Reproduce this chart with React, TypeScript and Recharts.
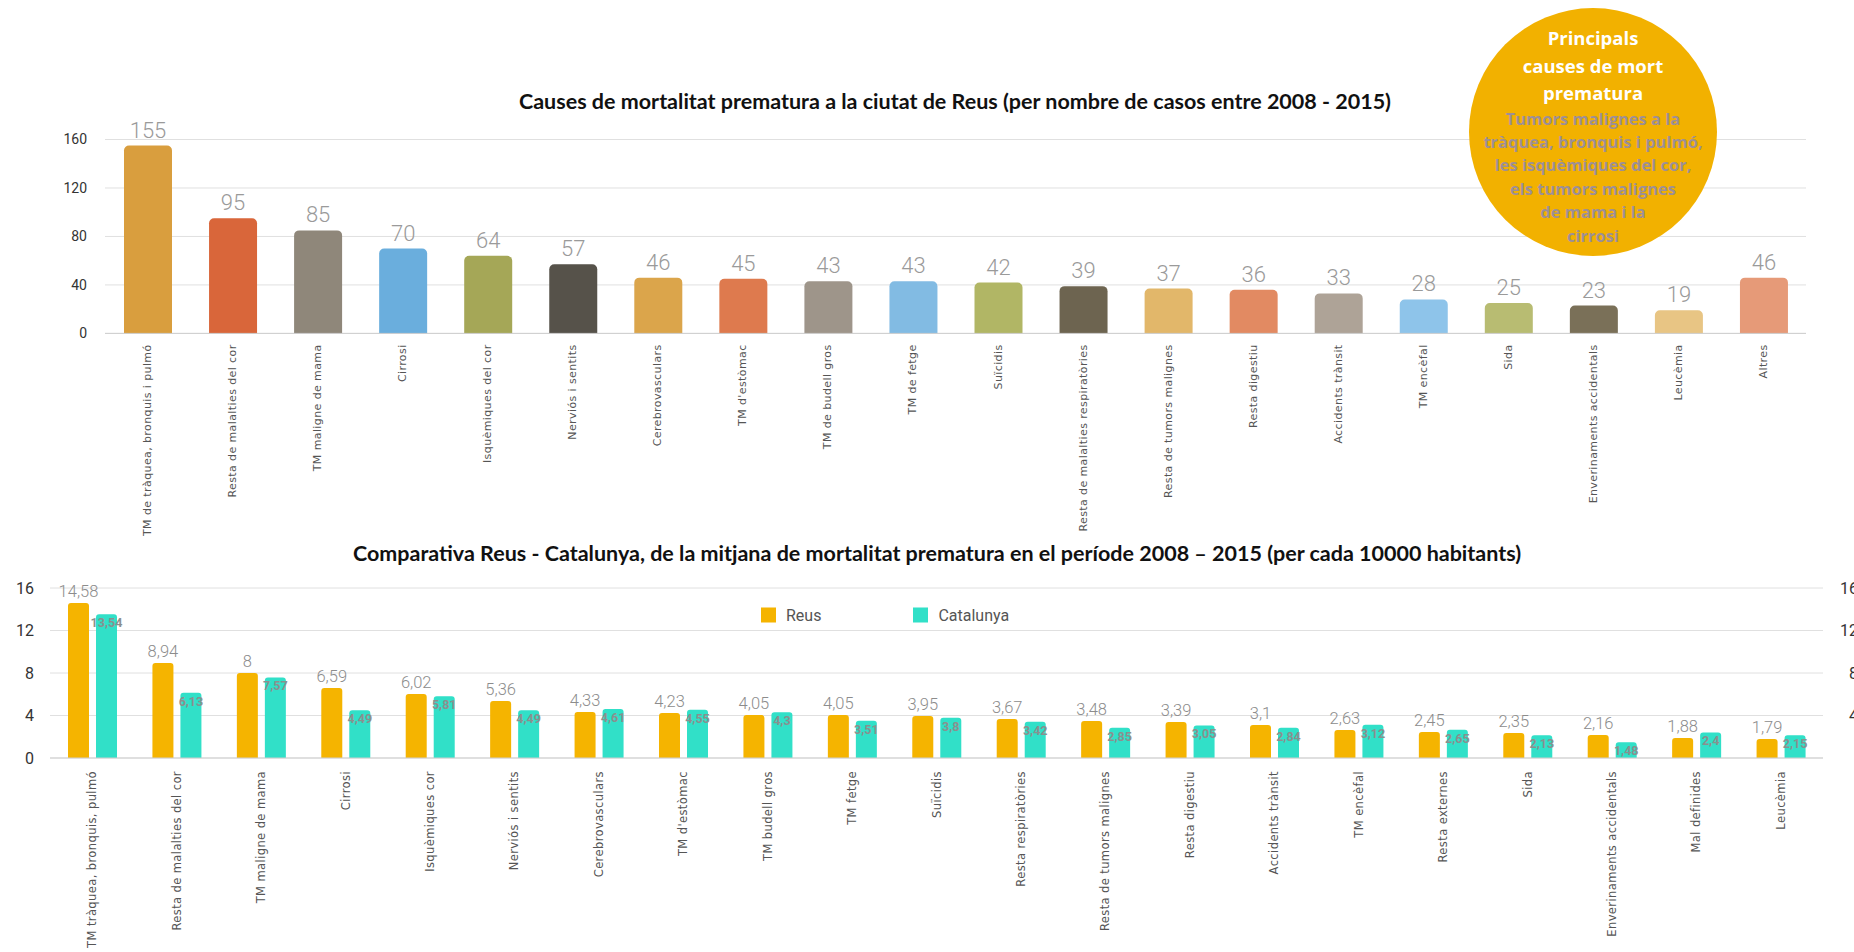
import { Bar, BarChart, CartesianGrid, Cell, LabelList, XAxis, YAxis } from "recharts";

// ---- top chart: number of cases 2008-2015 ----
const TOP_CATEGORIES = [
  "TM de tràquea, bronquis i pulmó",
  "Resta de malalties del cor",
  "TM maligne de mama",
  "Cirrosi",
  "Isquèmiques del cor",
  "Nerviós i sentits",
  "Cerebrovasculars",
  "TM d'estòmac",
  "TM de budell gros",
  "TM de fetge",
  "Suïcidis",
  "Resta de malalties respiratòries",
  "Resta de tumors malignes",
  "Resta digestiu",
  "Accidents trànsit",
  "TM encèfal",
  "Sida",
  "Enverinaments accidentals",
  "Leucèmia",
  "Altres",
];
const TOP_VALUES = [155, 95, 85, 70, 64, 57, 46, 45, 43, 43, 42, 39, 37, 36, 33, 28, 25, 23, 19, 46];
const TOP_COLORS = [
  "#D99E3E", "#D9663A", "#8F877A", "#6AAEDD", "#A5A757",
  "#56524A", "#DBA54B", "#DE7A4E", "#9E958A", "#82BBE3",
  "#B1B665", "#6D6450", "#E2B76A", "#E28A62", "#AEA397",
  "#8EC4EA", "#B8BC72", "#7A7058", "#E8C584", "#E69A78",
];
const TOP_TICKS = [0, 40, 80, 120, 160];

// ---- bottom chart: Reus vs Catalunya per 10000 inhabitants ----
const CMP_CATEGORIES = [
  "TM tràquea, bronquis, pulmó",
  "Resta de malalties del cor",
  "TM maligne de mama",
  "Cirrosi",
  "Isquèmiques cor",
  "Nerviós i sentits",
  "Cerebrovasculars",
  "TM d'estòmac",
  "TM budell gros",
  "TM fetge",
  "Suïcidis",
  "Resta respiratòries",
  "Resta de tumors malignes",
  "Resta digestiu",
  "Accidents trànsit",
  "TM encèfal",
  "Resta externes",
  "Sida",
  "Enverinaments accidentals",
  "Mal definides",
  "Leucèmia",
];
const REUS = [14.58, 8.94, 8, 6.59, 6.02, 5.36, 4.33, 4.23, 4.05, 4.05, 3.95, 3.67, 3.48, 3.39, 3.1, 2.63, 2.45, 2.35, 2.16, 1.88, 1.79];
const CATALUNYA = [13.54, 6.13, 7.57, 4.49, 5.81, 4.49, 4.61, 4.55, 4.3, 3.51, 3.8, 3.42, 2.85, 3.05, 2.84, 3.12, 2.65, 2.13, 1.48, 2.4, 2.15];
const CMP_TICKS = [0, 4, 8, 12, 16];
const SERIES = [
  { key: "reus", name: "Reus", color: "#F5B400" },
  { key: "cat", name: "Catalunya", color: "#31E0C8" },
];

const GRID = "#e0e0e0";
const AXIS = "#cfcfcf";
const NUM_FONT = "Roboto, 'DejaVu Sans', sans-serif";
const LABEL_FONT = "'DejaVu Sans', sans-serif";
const TITLE_FONT = "Lato, 'DejaVu Sans', sans-serif";
const BADGE_FONT = "'Open Sans', Lato, sans-serif";

const comma = (v: number | string) => String(v).replace(".", ",");

const topData = TOP_CATEGORIES.map((name, i) => ({ name, value: TOP_VALUES[i] }));
const cmpData = CMP_CATEGORIES.map((name, i) => ({ name, reus: REUS[i], cat: CATALUNYA[i] }));

function RotatedTick({ x, y, payload, dy, fontSize }: any) {
  const ty = y + dy;
  return (
    <text
      x={x}
      y={ty}
      transform={`rotate(-90, ${x}, ${ty})`}
      textAnchor="end"
      dominantBaseline="central"
      fontSize={fontSize}
      letterSpacing={0.4}
      fill="#555"
      fontFamily={LABEL_FONT}
    >
      {payload.value}
    </text>
  );
}

// left tick + mirrored right tick (cut off by the page edge in the original)
function CmpYTick({ y, payload }: any) {
  const v = payload.value;
  return (
    <g fontFamily={NUM_FONT} fontSize={16} fill="#333">
      <text x={34} y={y} textAnchor="end" dominantBaseline="central">
        {v}
      </text>
      {v > 0 && (
        <text x={1858} y={y} textAnchor="end" dominantBaseline="central">
          {v}
        </text>
      )}
    </g>
  );
}

function Title({ text, cx, cy, size }: { text: string; cx: number; cy: number; size: number }) {
  return (
    <div
      style={{
        position: "absolute",
        left: cx,
        top: cy,
        transform: "translate(-50%, -50%)",
        whiteSpace: "nowrap",
        fontFamily: TITLE_FONT,
        fontWeight: 700,
        fontSize: size,
        color: "#111",
      }}
    >
      {text}
    </div>
  );
}

function Badge() {
  const white = ["Principals", "causes de mort", "prematura"];
  const grey = [
    "Tumors malignes a la",
    "tràquea, bronquis i pulmó,",
    "les isquèmiques del cor,",
    "els tumors malignes",
    "de mama i la",
    "cirrosi",
  ];
  return (
    <div
      style={{
        position: "absolute",
        left: 1469,
        top: 8,
        width: 248,
        height: 248,
        borderRadius: "50%",
        background: "#F2B100",
        textAlign: "center",
        fontFamily: BADGE_FONT,
        fontWeight: 700,
        boxSizing: "border-box",
        paddingTop: 16,
        whiteSpace: "nowrap",
      }}
    >
      {white.map((t) => (
        <div key={t} style={{ color: "#fff", fontSize: 18.5, lineHeight: "27.5px" }}>
          {t}
        </div>
      ))}
      {grey.map((t) => (
        <div key={t} style={{ color: "#9d8f96", fontSize: 16.5, lineHeight: "23.4px" }}>
          {t}
        </div>
      ))}
    </div>
  );
}

function CmpLegend() {
  return (
    <div
      style={{
        position: "absolute",
        left: 761,
        top: 615,
        transform: "translateY(-50%)",
        display: "flex",
        alignItems: "center",
        fontFamily: NUM_FONT,
        fontSize: 16,
        color: "#555",
      }}
    >
      {SERIES.map((s, i) => (
        <div key={s.key} style={{ display: "flex", alignItems: "center", marginRight: i === 0 ? 92 : 0 }}>
          <span style={{ width: 15, height: 15, background: s.color, display: "inline-block", marginRight: 10 }} />
          <span>{s.name}</span>
        </div>
      ))}
    </div>
  );
}

export default function App() {
  return (
    <div style={{ position: "absolute", left: 0, top: 0, width: 1854, height: 952, background: "#fff", overflow: "hidden" }}>
      <div style={{ position: "absolute", left: 0, top: 0 }}>
        <BarChart
          width={1854}
          height={545}
          data={topData}
          margin={{ top: 139.5, right: 48, bottom: 11.6, left: 0 }}
        >
          <CartesianGrid stroke={GRID} vertical={false} />
          <XAxis
            dataKey="name"
            interval={0}
            height={200}
            stroke={AXIS}
            tickLine={false}
            tickSize={0}
            tick={<RotatedTick dy={9} fontSize={11} />}
          />
          <YAxis
            width={105}
            domain={[0, 160]}
            ticks={TOP_TICKS}
            axisLine={false}
            tickLine={false}
            tickSize={0}
            tickMargin={18}
            tick={{ fontSize: 14, fill: "#333", fontFamily: NUM_FONT }}
          />
          <Bar dataKey="value" barSize={48} radius={[5, 5, 0, 0]} isAnimationActive={false}>
            {topData.map((d, i) => (
              <Cell key={d.name} fill={TOP_COLORS[i]} />
            ))}
            <LabelList
              dataKey="value"
              position="top"
              offset={8}
              style={{ fontSize: 22, fill: "#9a9a9a", fontFamily: NUM_FONT, fontWeight: 300 }}
            />
          </Bar>
        </BarChart>
      </div>

      <div style={{ position: "absolute", left: 0, top: 540 }}>
        <BarChart
          width={1854}
          height={412}
          data={cmpData}
          margin={{ top: 48, right: 31, bottom: 0, left: 0 }}
          barGap={7}
          barCategoryGap={17}
        >
          <CartesianGrid stroke={GRID} vertical={false} />
          <XAxis
            dataKey="name"
            interval={0}
            height={194}
            stroke={AXIS}
            tickLine={false}
            tickSize={0}
            tick={<RotatedTick dy={11} fontSize={11.5} />}
          />
          <YAxis
            width={50}
            domain={[0, 16]}
            ticks={CMP_TICKS}
            axisLine={false}
            tickLine={false}
            tickSize={0}
            tickMargin={16}
            tick={<CmpYTick />}
          />
          <Bar dataKey="reus" name="Reus" fill={SERIES[0].color} barSize={21} radius={[3, 3, 0, 0]} isAnimationActive={false}>
            <LabelList
              dataKey="reus"
              position="top"
              offset={6}
              formatter={(v: any) => comma(v)}
              style={{ fontSize: 16.5, fill: "#8c8c8c", fontFamily: NUM_FONT, fontWeight: 300 }}
            />
          </Bar>
          <Bar dataKey="cat" name="Catalunya" fill={SERIES[1].color} barSize={21} radius={[3, 3, 0, 0]} isAnimationActive={false}>
            <LabelList
              dataKey="cat"
              position="insideTop"
              offset={4}
              formatter={(v: any) => comma(v)}
              style={{ fontSize: 12.5, fill: "#8a908f", fontFamily: NUM_FONT, fontWeight: 700 }}
            />
          </Bar>
        </BarChart>
      </div>

      <Title
        text="Causes de mortalitat prematura a la ciutat de Reus (per nombre de casos entre 2008 - 2015)"
        cx={955}
        cy={101}
        size={21.5}
      />
      <Title
        text="Comparativa Reus - Catalunya, de la mitjana de mortalitat prematura en el període 2008 – 2015 (per cada 10000 habitants)"
        cx={937}
        cy={553}
        size={21.5}
      />
      <CmpLegend />
      <Badge />
    </div>
  );
}
